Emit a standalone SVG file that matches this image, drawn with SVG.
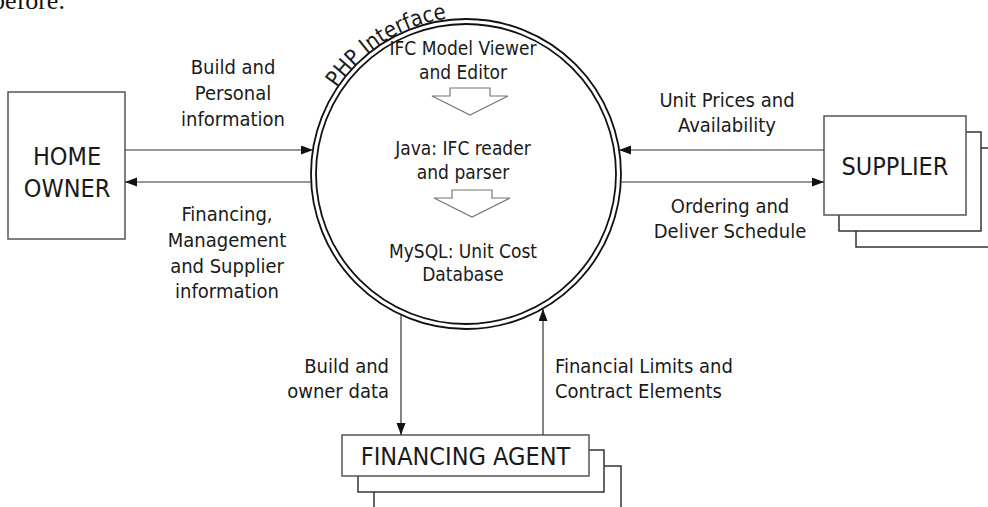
<svg xmlns="http://www.w3.org/2000/svg" width="988" height="507" viewBox="0 0 988 507">
  <style>
    .lbl { font-family: "DejaVu Sans Condensed", "DejaVu Sans", sans-serif; font-size: 20px; fill: #1a1a1a; }
    .arc { font-family: "DejaVu Sans Condensed", "DejaVu Sans", sans-serif; font-size: 22px; fill: #1a1a1a; }
    .inner { font-family: "DejaVu Sans Condensed", "DejaVu Sans", sans-serif; font-size: 19px; fill: #1a1a1a; text-anchor: middle; }
    .big { font-family: "DejaVu Sans Condensed", "DejaVu Sans", sans-serif; font-size: 25px; fill: #1a1a1a; }
    .box { fill: #ffffff; stroke: #555555; stroke-width: 1.5; }
    .back { fill: #ffffff; stroke: #333333; stroke-width: 1.5; }
    .flow { fill: none; stroke: #333333; stroke-width: 1.2; marker-end: url(#head); }
    .ring { fill: none; stroke: #111111; stroke-width: 1.8; }
    .block { fill: #ffffff; stroke: #777777; stroke-width: 1.2; }
  </style>
  <defs>
    <marker id="head" markerWidth="13" markerHeight="10" refX="12" refY="4.5" orient="auto" markerUnits="userSpaceOnUse">
      <path d="M0,0 L12,4.5 L0,9 z" fill="#111111"/>
    </marker>
    <!-- baseline of the curved caption, just outside the outer ring -->
    <path id="phpArc" d="M337,88 A159,159 0 0 1 545.5,36.3"/>
  </defs>
  <rect width="988" height="507" fill="#ffffff"/>

  <!-- tail of the preceding paragraph -->
  <text x="-8" y="9" font-family="Liberation Serif, serif" font-size="26" fill="#111">before.</text>

  <!-- home owner -->
  <g id="home-owner">
    <rect class="box" x="8" y="92" width="117" height="147"/>
    <text class="big" x="67" y="165" text-anchor="middle">HOME</text>
    <text class="big" x="67" y="197" text-anchor="middle">OWNER</text>
  </g>

  <!-- central process -->
  <g id="php-interface">
    <circle class="ring" cx="466" cy="174" r="155"/>
    <circle class="ring" cx="466" cy="174" r="150"/>
    <text class="arc"><textPath href="#phpArc">PHP Interface</textPath></text>
    <text class="inner" x="463" y="55">IFC Model Viewer</text>
    <text class="inner" x="463" y="79">and Editor</text>
    <path class="block" d="M450,88 H490 V96 H508 L470,115 L432,96 H450 Z"/>
    <text class="inner" x="463" y="155">Java: IFC reader</text>
    <text class="inner" x="463" y="179">and parser</text>
    <path class="block" d="M452,190 H492 V198 H510 L472,217 L434,198 H452 Z"/>
    <text class="inner" x="463" y="258">MySQL: Unit Cost</text>
    <text class="inner" x="463" y="281">Database</text>
  </g>

  <!-- supplier (stacked) -->
  <g id="supplier">
    <rect class="back" x="856" y="148" width="150" height="99"/>
    <rect class="back" x="839" y="132" width="142" height="99"/>
    <rect class="box" x="824" y="116" width="142" height="99"/>
    <text class="big" x="895" y="175" text-anchor="middle">SUPPLIER</text>
  </g>

  <!-- financing agent (stacked) -->
  <g id="financing-agent">
    <rect class="back" x="374" y="466" width="247" height="60"/>
    <rect class="back" x="358" y="450" width="246" height="42"/>
    <rect class="box" x="342" y="435" width="247" height="41"/>
    <text class="big" x="465.5" y="465" text-anchor="middle">FINANCING AGENT</text>
  </g>

  <!-- data flows -->
  <g id="connectors">
    <path class="flow" d="M125,150 H313"/>
    <path class="flow" d="M311,182 H125"/>
    <path class="flow" d="M824,150 H619"/>
    <path class="flow" d="M621,182 H824"/>
    <path class="flow" d="M401,315 V435"/>
    <path class="flow" d="M543,435 V309"/>
  </g>

  <!-- flow labels -->
  <g id="flow-labels">
    <text class="lbl" x="233" y="74" text-anchor="middle">Build and</text>
    <text class="lbl" x="233" y="100" text-anchor="middle">Personal</text>
    <text class="lbl" x="233" y="126" text-anchor="middle">information</text>

    <text class="lbl" x="227" y="221" text-anchor="middle">Financing,</text>
    <text class="lbl" x="227" y="247" text-anchor="middle">Management</text>
    <text class="lbl" x="227" y="273" text-anchor="middle">and Supplier</text>
    <text class="lbl" x="227" y="298" text-anchor="middle">information</text>

    <text class="lbl" x="727" y="107" text-anchor="middle">Unit Prices and</text>
    <text class="lbl" x="727" y="132" text-anchor="middle">Availability</text>
    <text class="lbl" x="730" y="213" text-anchor="middle">Ordering and</text>
    <text class="lbl" x="730" y="238" text-anchor="middle">Deliver Schedule</text>

    <text class="lbl" x="389" y="373" text-anchor="end">Build and</text>
    <text class="lbl" x="389" y="398" text-anchor="end">owner data</text>
    <text class="lbl" x="555" y="373">Financial Limits and</text>
    <text class="lbl" x="555" y="398">Contract Elements</text>
  </g>
</svg>
